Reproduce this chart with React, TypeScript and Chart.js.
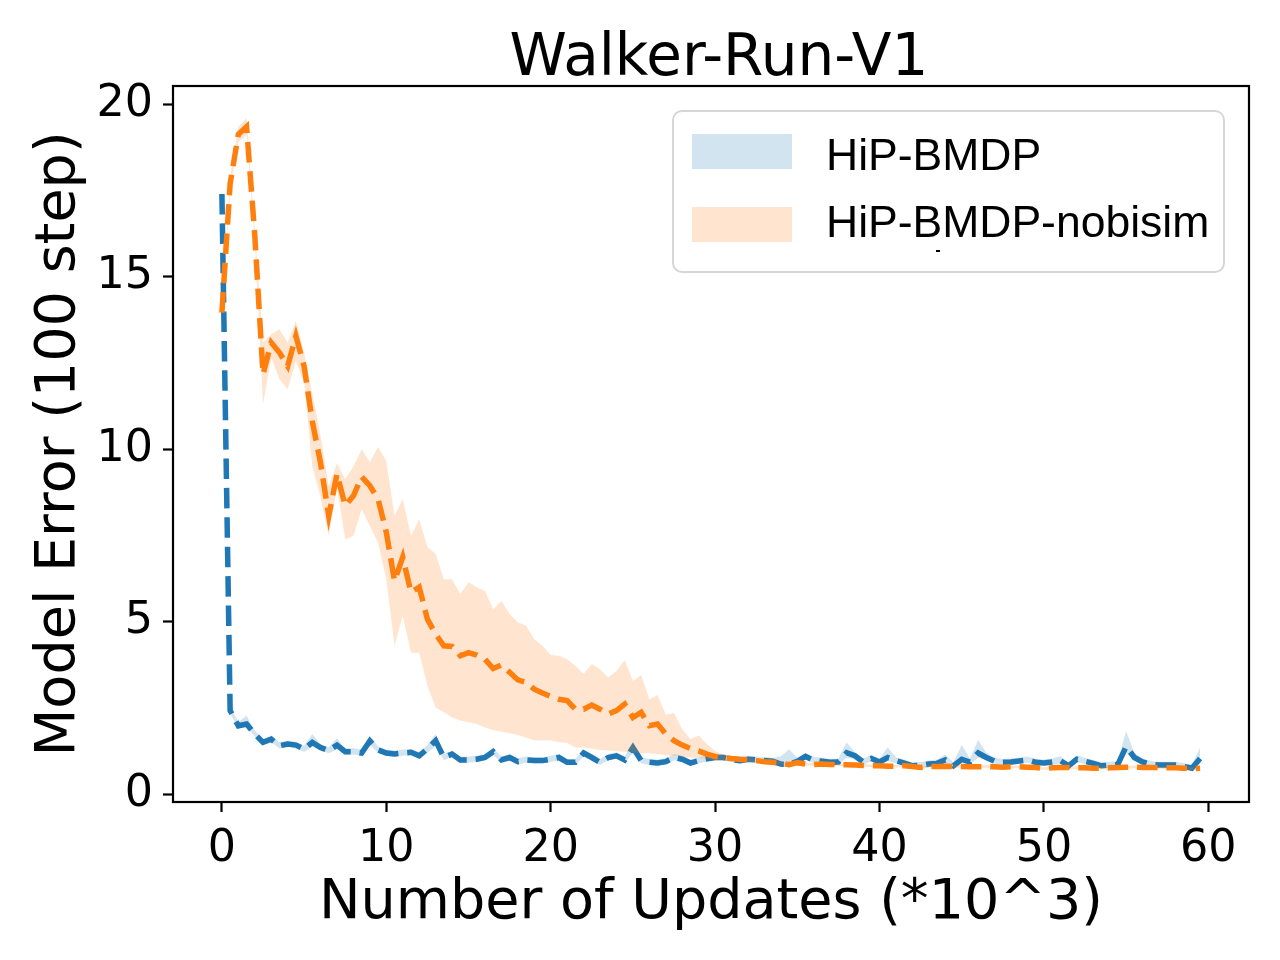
import React, { useEffect, useRef } from "react";
import { Chart, registerables } from "chart.js";

Chart.register(...registerables);

const title = "Walker-Run-V1";
const xLabel = "Number of Updates (*10^3)";
const yLabel = "Model Error (100 step)";
const seriesNames = ["HiP-BMDP", "HiP-BMDP-nobisim"];
const xTicks = [0, 10, 20, 30, 40, 50, 60];
const yTicks = [0, 5, 10, 15, 20];

const updates = [
  0, 0.5, 1, 1.5, 2, 2.5, 3, 3.5, 4, 4.5, 5, 5.5, 6, 6.5, 7, 7.5, 8, 8.5, 9, 9.5,
  10, 10.5, 11, 11.5, 12, 12.5, 13, 13.5, 14, 14.5, 15, 15.5, 16, 16.5, 17, 17.5, 18, 18.5, 19, 19.5,
  20, 20.5, 21, 21.5, 22, 22.5, 23, 23.5, 24, 24.5, 25, 25.5, 26, 26.5, 27, 27.5, 28, 28.5, 29, 29.5,
  30, 30.5, 31, 31.5, 32, 32.5, 33, 33.5, 34, 34.5, 35, 35.5, 36, 36.5, 37, 37.5, 38, 38.5, 39, 39.5,
  40, 40.5, 41, 41.5, 42, 42.5, 43, 43.5, 44, 44.5, 45, 45.5, 46, 46.5, 47, 47.5, 48, 48.5, 49, 49.5,
  50, 50.5, 51, 51.5, 52, 52.5, 53, 53.5, 54, 54.5, 55, 55.5, 56, 56.5, 57, 57.5, 58, 58.5, 59, 59.5,
];

const hipMean = [
  17.4, 2.42, 1.98, 2.03, 1.74, 1.5, 1.59, 1.4, 1.45, 1.42, 1.3, 1.5, 1.35, 1.26, 1.42, 1.23, 1.23, 1.19, 1.54, 1.28,
  1.19, 1.16, 1.19, 1.21, 1.11, 1.31, 1.55, 1.06, 1.16, 0.99, 0.99, 1.01, 1.06, 1.23, 0.99, 1.06, 0.94, 0.99, 0.97, 0.97,
  1.01, 1.06, 0.92, 0.92, 1.19, 1.06, 0.92, 1.06, 1.11, 0.99, 1.35, 0.97, 0.92, 0.9, 0.94, 1.06, 1.01, 0.9, 0.97, 1.02,
  1.06, 1.06, 1.0, 0.97, 1.01, 0.99, 0.97, 0.95, 0.87, 0.86, 0.95, 1.09, 0.98, 0.95, 0.92, 0.93, 1.2, 1.11, 0.93, 1.03,
  0.93, 1.06, 0.97, 0.9, 0.82, 0.83, 0.87, 0.89, 0.99, 0.82, 1.01, 0.93, 1.19, 1.06, 0.95, 0.92, 0.93, 0.96, 0.99, 0.92,
  0.9, 0.93, 0.97, 0.82, 1.01, 0.95, 0.89, 0.82, 0.84, 0.86, 1.38, 1.06, 0.93, 0.86, 0.84, 0.84, 0.84, 0.8, 0.75, 1.03,
];
const hipUpper = [
  17.5, 2.5, 2.1, 2.27, 1.84, 1.6, 1.7, 1.5, 1.55, 1.52, 1.4, 1.74, 1.45, 1.36, 1.62, 1.33, 1.33, 1.29, 1.69, 1.38,
  1.29, 1.26, 1.29, 1.31, 1.21, 1.42, 1.74, 1.16, 1.26, 1.09, 1.09, 1.11, 1.16, 1.33, 1.09, 1.16, 1.04, 1.09, 1.07, 1.07,
  1.11, 1.16, 1.02, 1.02, 1.29, 1.16, 1.02, 1.16, 1.21, 1.09, 1.52, 1.07, 1.02, 1.0, 1.04, 1.16, 1.11, 1.0, 1.07, 1.12,
  1.16, 1.16, 1.1, 1.07, 1.11, 1.09, 1.07, 1.05, 1.1, 1.3, 1.05, 1.19, 1.08, 1.05, 1.02, 1.03, 1.5, 1.21, 1.03, 1.13,
  1.03, 1.35, 1.07, 1.0, 0.92, 0.93, 0.97, 1.0, 1.15, 0.92, 1.42, 1.03, 1.57, 1.2, 1.05, 1.02, 1.03, 1.06, 1.09, 1.02,
  1.0, 1.03, 1.1, 0.92, 1.12, 1.05, 0.99, 0.92, 0.94, 0.96, 1.83, 1.2, 1.03, 0.96, 0.94, 0.94, 0.94, 0.9, 0.85, 1.35,
];
const hipLower = [
  17.3, 2.34, 1.9, 1.95, 1.66, 1.42, 1.51, 1.32, 1.37, 1.34, 1.22, 1.38, 1.27, 1.18, 1.3, 1.15, 1.15, 1.11, 1.42, 1.2,
  1.11, 1.08, 1.11, 1.13, 1.03, 1.2, 1.4, 0.98, 1.08, 0.91, 0.91, 0.93, 0.98, 1.13, 0.91, 0.98, 0.86, 0.91, 0.89, 0.89,
  0.93, 0.98, 0.84, 0.84, 1.1, 0.98, 0.84, 0.98, 1.03, 0.91, 1.2, 0.89, 0.84, 0.82, 0.86, 0.98, 0.93, 0.82, 0.89, 0.94,
  0.98, 0.98, 0.92, 0.89, 0.93, 0.91, 0.89, 0.87, 0.79, 0.78, 0.87, 1.0, 0.9, 0.87, 0.84, 0.85, 1.05, 1.02, 0.85, 0.95,
  0.85, 0.96, 0.89, 0.82, 0.74, 0.75, 0.79, 0.81, 0.9, 0.74, 0.9, 0.85, 1.05, 0.98, 0.87, 0.84, 0.85, 0.88, 0.91, 0.84,
  0.82, 0.85, 0.89, 0.74, 0.93, 0.87, 0.81, 0.74, 0.76, 0.78, 1.2, 0.98, 0.85, 0.78, 0.76, 0.76, 0.76, 0.72, 0.67, 0.95,
];

const nobisimMean = [
  13.96, 17.7, 19.13, 19.35, 16.2, 12.17, 13.09, 12.8, 12.41, 13.28, 12.4, 10.8, 9.6, 8.07, 9.28, 8.36, 8.65, 9.2, 8.94, 8.55,
  7.59, 6.18, 6.87, 5.85, 6.0, 5.07, 4.64, 4.3, 4.28, 4.01, 4.1, 4.03, 3.91, 3.64, 3.74, 3.53, 3.31, 3.24, 3.04, 2.93,
  2.83, 2.75, 2.71, 2.46, 2.46, 2.58, 2.46, 2.32, 2.42, 2.61, 2.22, 2.37, 1.98, 2.03, 1.74, 1.55, 1.42, 1.32, 1.25, 1.16,
  1.09, 1.06, 1.03, 1.01, 0.99, 0.97, 0.94, 0.92, 0.9, 0.85, 0.91, 0.87, 0.86, 0.87, 0.86, 0.85, 0.85, 0.84, 0.83, 0.82,
  0.82, 0.81, 0.81, 0.82, 0.8, 0.77, 0.8, 0.8, 0.81, 0.8, 0.8, 0.79, 0.79, 0.8, 0.79, 0.78, 0.79, 0.79, 0.78, 0.77,
  0.74, 0.76, 0.77, 0.77, 0.76, 0.76, 0.75, 0.75, 0.76, 0.77, 0.78, 0.78, 0.77, 0.77, 0.77, 0.76, 0.76, 0.75, 0.74, 0.75,
];
const nobisimUpper = [
  14.1, 17.9, 19.35, 19.6, 16.4, 13.09, 13.33, 13.48, 13.09, 13.72, 12.8, 11.6, 10.4, 8.9, 9.6, 9.13, 9.5, 10.0, 9.62, 10.06,
  9.66, 8.07, 8.55, 7.49, 7.97, 7.16, 6.96, 6.23, 6.23, 5.8, 6.14, 6.0, 5.89, 5.36, 5.6, 5.22, 4.98, 4.88, 4.49, 4.3,
  4.03, 4.01, 3.91, 3.72, 3.48, 3.77, 3.62, 3.38, 3.57, 3.88, 3.28, 3.45, 2.75, 2.87, 2.3, 2.35, 1.88, 1.6, 1.7, 1.45,
  1.25, 1.15, 1.1, 1.07, 1.05, 1.02, 1.0, 0.97, 0.95, 0.9, 0.96, 0.91, 0.9, 0.91, 0.9, 0.89, 0.89, 0.88, 0.87, 0.86,
  0.86, 0.85, 0.85, 0.86, 0.84, 0.81, 0.84, 0.84, 0.85, 0.84, 0.84, 0.83, 0.83, 0.84, 0.83, 0.82, 0.83, 0.83, 0.82, 0.81,
  0.78, 0.8, 0.81, 0.81, 0.8, 0.8, 0.79, 0.79, 0.8, 0.81, 0.82, 0.82, 0.81, 0.81, 0.81, 0.8, 0.8, 0.79, 0.78, 0.79,
];
const nobisimLower = [
  13.8, 17.5, 18.9, 19.1, 16.0, 11.3, 12.65, 12.03, 11.74, 12.56, 11.93, 9.5, 8.6, 7.5, 8.9, 7.39, 7.48, 8.26, 7.77, 7.29,
  6.23, 4.3, 5.17, 4.1, 4.1, 3.14, 2.51, 2.37, 2.22, 2.13, 2.08, 2.03, 1.93, 1.86, 1.81, 1.76, 1.71, 1.64, 1.55, 1.55,
  1.55, 1.5, 1.48, 1.35, 1.35, 1.32, 1.28, 1.26, 1.24, 1.23, 1.21, 1.18, 1.18, 1.16, 1.13, 1.11, 1.08, 1.06, 1.05, 1.02,
  0.98, 0.97, 0.96, 0.95, 0.93, 0.92, 0.89, 0.87, 0.85, 0.8, 0.86, 0.83, 0.82, 0.83, 0.82, 0.81, 0.81, 0.8, 0.79, 0.78,
  0.78, 0.77, 0.77, 0.78, 0.76, 0.73, 0.76, 0.76, 0.77, 0.76, 0.76, 0.75, 0.75, 0.76, 0.75, 0.74, 0.75, 0.75, 0.74, 0.73,
  0.7, 0.72, 0.73, 0.73, 0.72, 0.72, 0.71, 0.71, 0.72, 0.73, 0.74, 0.74, 0.73, 0.73, 0.73, 0.72, 0.72, 0.71, 0.7, 0.71,
];

const BLUE = "#1f77b4";
const ORANGE = "#ff7f0e";
const BLUE_FILL = "rgba(31,119,180,0.2)";
const ORANGE_FILL = "rgba(255,127,14,0.2)";
const FONT = '"DejaVu Sans", sans-serif';

const pts = (ys: number[]) => updates.map((x, i) => ({ x, y: ys[i] }));

const decorPlugin = {
  id: "decor",
  afterDatasetsDraw(chart: any) {
    const { ctx, chartArea } = chart;
    const { left, right, top, bottom } = chartArea;
    ctx.save();
    ctx.strokeStyle = "#000";
    ctx.lineWidth = 2.2;
    ctx.strokeRect(left, top, right - left, bottom - top);
    ctx.restore();
  },
  afterDraw(chart: any) {
    const { ctx, chartArea } = chart;
    const { left, right, top, bottom } = chartArea;
    const cx = (left + right) / 2;
    const cy = (top + bottom) / 2;
    ctx.save();
    ctx.fillStyle = "#000";
    ctx.textAlign = "center";
    ctx.textBaseline = "alphabetic";
    ctx.font = `58px ${FONT}`;
    ctx.fillText(title, 719, 75);
    ctx.font = `55.6px ${FONT}`;
    ctx.fillText(xLabel, cx, 918);
    ctx.save();
    ctx.translate(74, cy);
    ctx.rotate(-Math.PI / 2);
    ctx.fillText(yLabel, 0, 0);
    ctx.restore();

    // legend
    const bx = 673, by = 111, bw = 551, bh = 161, r = 9;
    ctx.beginPath();
    ctx.moveTo(bx + r, by);
    ctx.lineTo(bx + bw - r, by);
    ctx.arcTo(bx + bw, by, bx + bw, by + r, r);
    ctx.lineTo(bx + bw, by + bh - r);
    ctx.arcTo(bx + bw, by + bh, bx + bw - r, by + bh, r);
    ctx.lineTo(bx + r, by + bh);
    ctx.arcTo(bx, by + bh, bx, by + bh - r, r);
    ctx.lineTo(bx, by + r);
    ctx.arcTo(bx, by, bx + r, by, r);
    ctx.closePath();
    ctx.fillStyle = "rgba(255,255,255,0.8)";
    ctx.fill();
    ctx.strokeStyle = "#d6d6d6";
    ctx.lineWidth = 2;
    ctx.stroke();

    ctx.fillStyle = BLUE_FILL;
    ctx.fillRect(692, 134, 100, 35);
    ctx.fillStyle = ORANGE_FILL;
    ctx.fillRect(692, 207, 100, 35);

    ctx.fillStyle = "#000";
    ctx.textAlign = "left";
    ctx.font = '44.5px "Liberation Sans", Arial, sans-serif';
    ctx.fillText(seriesNames[0], 826, 170);
    ctx.fillText(seriesNames[1], 826, 237);
    ctx.fillRect(936, 250, 4, 2);
    ctx.restore();
  },
};

export default function App() {
  const ref = useRef<HTMLCanvasElement>(null);
  useEffect(() => {
    if (!ref.current) return;
    const tickFont = { family: FONT, size: 44.4 };
    const chart = new Chart(ref.current, {
      type: "line",
      data: {
        datasets: [
          {
            label: seriesNames[1],
            data: pts(nobisimMean),
            borderColor: ORANGE,
            borderWidth: 5.5,
            borderDash: [20.5, 8.9],
            borderCapStyle: "butt",
            pointRadius: 0,
            fill: false,
            tension: 0,
            order: 0,
          },
          {
            label: "nobisim-upper",
            data: pts(nobisimUpper),
            borderWidth: 0,
            pointRadius: 0,
            backgroundColor: ORANGE_FILL,
            fill: { target: 2 },
            order: 1,
          },
          {
            label: "nobisim-lower",
            data: pts(nobisimLower),
            borderWidth: 0,
            pointRadius: 0,
            fill: false,
            order: 1,
          },
          {
            label: seriesNames[0],
            data: pts(hipMean),
            borderColor: BLUE,
            borderWidth: 5.5,
            borderDash: [20.5, 8.9],
            borderCapStyle: "butt",
            pointRadius: 0,
            fill: false,
            tension: 0,
            order: 2,
          },
          {
            label: "hip-upper",
            data: pts(hipUpper),
            borderWidth: 0,
            pointRadius: 0,
            backgroundColor: BLUE_FILL,
            fill: { target: 5 },
            order: 3,
          },
          {
            label: "hip-lower",
            data: pts(hipLower),
            borderWidth: 0,
            pointRadius: 0,
            fill: false,
            order: 3,
          },
        ],
      },
      options: {
        responsive: false,
        devicePixelRatio: 1,
        animation: false,
        layout: { padding: { left: 0, right: 31, top: 86, bottom: 0 } },
        plugins: {
          legend: { display: false },
          title: { display: false },
          tooltip: { enabled: false },
        },
        scales: {
          x: {
            type: "linear",
            min: -2.975,
            max: 62.475,
            afterBuildTicks: (scale: any) => {
              scale.ticks = xTicks.map((v) => ({ value: v }));
            },
            afterFit: (scale: any) => {
              scale.height = 158;
            },
            border: { display: false },
            grid: {
              drawOnChartArea: false,
              drawTicks: true,
              tickLength: 10,
              tickWidth: 2.2,
              tickColor: "#000",
            },
            ticks: {
              color: "#000",
              font: tickFont,
              padding: 11,
              maxRotation: 0,
              autoSkip: false,
              callback: (v: any) => String(v),
            },
          },
          y: {
            type: "linear",
            min: -0.23,
            max: 20.53,
            afterBuildTicks: (scale: any) => {
              scale.ticks = yTicks.map((v) => ({ value: v }));
            },
            afterFit: (scale: any) => {
              scale.width = 173;
            },
            border: { display: false },
            grid: {
              drawOnChartArea: false,
              drawTicks: true,
              tickLength: 10,
              tickWidth: 2.2,
              tickColor: "#000",
            },
            ticks: {
              color: "#000",
              font: tickFont,
              padding: 10,
              autoSkip: false,
              callback: (v: any) => String(v),
            },
          },
        },
      },
      plugins: [decorPlugin],
    } as any);
    return () => chart.destroy();
  }, []);
  return (
    <div style={{ position: "fixed", left: 0, top: 0, width: 1280, height: 960, background: "#fff" }}>
      <canvas ref={ref} width={1280} height={960} style={{ width: 1280, height: 960 }} />
    </div>
  );
}
